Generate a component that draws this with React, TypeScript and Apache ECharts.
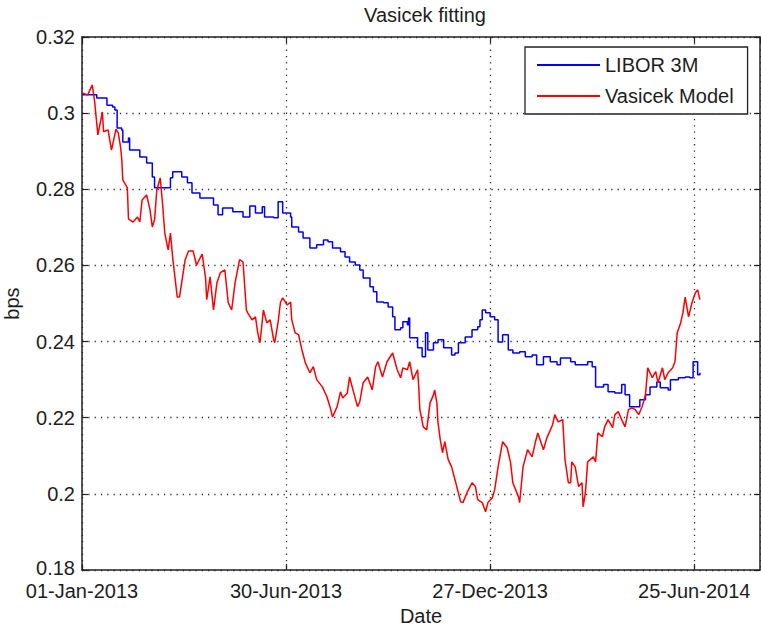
import React, { useEffect, useRef } from "react";
import * as echarts from "echarts";

const TITLE = "Vasicek fitting";
const X_NAME = "Date";
const Y_NAME = "bps";
const SERIES_NAMES = ["LIBOR 3M", "Vasicek Model"];
const X_TICK_DAYS = [0, 180, 360, 540];
const Y_MIN = 0.18;
const Y_MAX = 0.32;
const Y_STEP = 0.02;
const X_MAX_DAYS = 598;
const MONTHS = ["Jan", "Feb", "Mar", "Apr", "May", "Jun", "Jul", "Aug", "Sep", "Oct", "Nov", "Dec"];

// [days since 01-Jan-2013, value]
const liborData: [number, number][] = [
  [0, 0.3048], [13, 0.304], [22, 0.3021], [27, 0.3016], [29, 0.3008], [31, 0.2961], [35, 0.2956], [36, 0.2924],
  [41, 0.2935], [42, 0.2903], [51, 0.2885], [57, 0.2869], [62, 0.2832], [64, 0.2804], [75, 0.2804], [78, 0.283],
  [80, 0.2846], [88, 0.2832], [93, 0.2817], [97, 0.279], [104, 0.2777], [116, 0.2759], [120, 0.2733], [124, 0.2751],
  [131, 0.2751], [133, 0.2741], [139, 0.2741], [142, 0.2727], [148, 0.2756], [153, 0.2738], [159, 0.2754], [161, 0.2727],
  [169, 0.2725], [173, 0.2767], [177, 0.2738], [184, 0.2727], [185, 0.2701], [191, 0.2688], [195, 0.2672], [201, 0.2646],
  [207, 0.2654], [213, 0.2667], [217, 0.2662], [221, 0.2646], [228, 0.2636], [232, 0.2622], [236, 0.2609], [241, 0.2601],
  [245, 0.2588], [248, 0.2567], [254, 0.2544], [257, 0.2531], [260, 0.2504], [266, 0.2502], [270, 0.2491], [274, 0.2465],
  [276, 0.2431], [281, 0.2436], [283, 0.2452], [287, 0.2444], [288, 0.2462], [289, 0.241], [296, 0.2384], [300, 0.236],
  [303, 0.2423], [305, 0.2378], [310, 0.2397], [314, 0.2405], [319, 0.2384], [326, 0.2365], [329, 0.237], [332, 0.2397],
  [338, 0.2412], [344, 0.2431], [349, 0.2439], [351, 0.2457], [353, 0.2483], [356, 0.2476], [360, 0.2465], [364, 0.2457],
  [367, 0.2399], [371, 0.2418], [376, 0.2378], [380, 0.237], [386, 0.2373], [391, 0.236], [397, 0.2365], [401, 0.2339],
  [407, 0.236], [413, 0.2347], [419, 0.2339], [422, 0.2357], [431, 0.2347], [435, 0.2339], [446, 0.2347], [450, 0.2334],
  [453, 0.2281], [460, 0.2287], [464, 0.2268], [470, 0.2265], [476, 0.2287], [479, 0.226], [483, 0.2229], [490, 0.2229],
  [492, 0.2247], [497, 0.226], [501, 0.2281], [507, 0.2294], [510, 0.2279], [517, 0.2273], [519, 0.23], [526, 0.2305],
  [532, 0.2307], [536, 0.2305], [539, 0.2347], [542, 0.2347], [543, 0.2313], [545, 0.2318],
];

const vasicekData: [number, number][] = [
  [0, 0.3053], [5, 0.3048], [9, 0.3074], [11, 0.3035], [14, 0.2943], [18, 0.3003], [19, 0.2951], [23, 0.2956],
  [26, 0.2903], [30, 0.2958], [32, 0.2948], [34, 0.2911], [35, 0.2882], [36, 0.2825], [40, 0.2804], [41, 0.2722],
  [45, 0.2714], [49, 0.2727], [51, 0.2714], [53, 0.2772], [57, 0.2785], [60, 0.2746], [62, 0.2701], [64, 0.272],
  [66, 0.2798], [69, 0.283], [71, 0.2764], [73, 0.2685], [76, 0.2641], [78, 0.2685], [80, 0.262], [84, 0.2517],
  [86, 0.2517], [91, 0.2615], [94, 0.2638], [98, 0.2638], [101, 0.2601], [106, 0.263], [109, 0.2567], [110, 0.251],
  [113, 0.257], [116, 0.2483], [119, 0.2554], [122, 0.2581], [126, 0.2588], [129, 0.2502], [132, 0.2483], [135, 0.2554],
  [139, 0.2615], [142, 0.2609], [145, 0.2483], [146, 0.2476], [150, 0.2457], [153, 0.2465], [155, 0.2423], [157, 0.2397],
  [160, 0.2483], [163, 0.2449], [166, 0.2457], [169, 0.2405], [170, 0.2397], [173, 0.2452], [175, 0.2502], [177, 0.2515],
  [181, 0.2496], [184, 0.2504], [185, 0.2457], [188, 0.2423], [191, 0.2418], [194, 0.2378], [197, 0.2344], [201, 0.2318],
  [204, 0.2334], [207, 0.23], [212, 0.2281], [216, 0.2255], [219, 0.2226], [221, 0.2202], [225, 0.2229], [228, 0.2268],
  [230, 0.2252], [234, 0.2265], [236, 0.2307], [239, 0.2273], [243, 0.2229], [245, 0.2242], [248, 0.2292], [252, 0.2307],
  [256, 0.2273], [259, 0.2334], [261, 0.2347], [265, 0.2307], [269, 0.2347], [274, 0.237], [278, 0.2326], [281, 0.2305],
  [283, 0.2331], [287, 0.2326], [289, 0.2347], [292, 0.23], [296, 0.2326], [297, 0.2281], [298, 0.2221], [301, 0.2176],
  [304, 0.2168], [307, 0.2239], [310, 0.226], [311, 0.2273], [313, 0.2239], [314, 0.2187], [316, 0.2142], [318, 0.2108],
  [320, 0.2137], [323, 0.209], [326, 0.2071], [329, 0.2037], [334, 0.1979], [336, 0.1977], [340, 0.2006], [344, 0.2029],
  [347, 0.2019], [349, 0.1985], [353, 0.1977], [356, 0.1953], [358, 0.1977], [362, 0.199], [364, 0.2011], [367, 0.2071],
  [371, 0.2137], [375, 0.2121], [378, 0.2082], [380, 0.2029], [385, 0.1992], [386, 0.1977], [389, 0.2071], [393, 0.2116],
  [397, 0.2097], [400, 0.2137], [402, 0.216], [407, 0.2116], [410, 0.2147], [415, 0.2181], [417, 0.2208], [420, 0.2189],
  [424, 0.2195], [426, 0.209], [429, 0.2029], [431, 0.2029], [432, 0.2084], [435, 0.2071], [438, 0.2019], [441, 0.2029],
  [442, 0.1966], [444, 0.2003], [446, 0.2084], [451, 0.2097], [453, 0.2084], [455, 0.216], [459, 0.215], [461, 0.2176],
  [464, 0.2195], [468, 0.2174], [470, 0.2208], [473, 0.2216], [476, 0.2195], [479, 0.2176], [482, 0.2221], [485, 0.2226],
  [488, 0.2221], [491, 0.2208], [494, 0.2229], [497, 0.226], [499, 0.2331], [503, 0.2305], [506, 0.2321], [508, 0.2292],
  [512, 0.2331], [514, 0.23], [517, 0.2318], [521, 0.2331], [523, 0.2347], [525, 0.2423], [528, 0.2449], [530, 0.2476],
  [532, 0.2517], [535, 0.2465], [538, 0.2502], [541, 0.2528], [543, 0.2536], [545, 0.251],
];

const FONT = "'Liberation Sans', Arial, Helvetica, sans-serif";
const TEXT_COLOR = "#1e1e1e";

function fmtDate(days: number): string {
  const t = new Date(Date.UTC(2013, 0, 1) + days * 86400000);
  const dd = String(t.getUTCDate()).padStart(2, "0");
  return `${dd}-${MONTHS[t.getUTCMonth()]}-${t.getUTCFullYear()}`;
}

export default function App() {
  const ref = useRef<HTMLDivElement>(null);
  useEffect(() => {
    if (!ref.current) return;
    const chart = echarts.init(ref.current, undefined, { renderer: "svg" });
    const gridLine = { show: true, lineStyle: { color: "#333", width: 1.3, type: [1.3, 5] as any } };
    const axisLine = { show: true, onZero: false, lineStyle: { color: "#222", width: 1.5 } };
    const tick = { show: true, inside: true, length: 6, lineStyle: { color: "#222", width: 1.2 } };
    const xBase = {
      type: "value" as const,
      min: 0,
      max: X_MAX_DAYS,
      interval: 180,
    };
    const yBase = {
      type: "value" as const,
      min: Y_MIN,
      max: Y_MAX,
      interval: Y_STEP,
    };
    chart.setOption({
      animation: false,
      textStyle: { fontFamily: FONT, color: TEXT_COLOR },
      title: {
        text: TITLE,
        left: 420,
        top: 0,
        textAlign: "center",
        textStyle: { fontFamily: FONT, fontSize: 20, fontWeight: "normal", color: TEXT_COLOR },
      },
      legend: {
        orient: "vertical",
        left: 525,
        top: 47,
        padding: [8, 14, 8, 12],
        itemWidth: 63,
        itemHeight: 2,
        itemGap: 11,
        icon: "rect",
        backgroundColor: "#fff",
        borderColor: "#222",
        borderWidth: 1.3,
        borderRadius: 0,
        data: SERIES_NAMES,
        textStyle: { fontFamily: FONT, fontSize: 20, color: TEXT_COLOR },
      },
      grid: { left: 82, right: 1, top: 37, bottom: 56, outerBoundsMode: "none", containLabel: false },
      xAxis: [
        {
          ...xBase,
          position: "bottom",
          name: X_NAME,
          nameLocation: "middle",
          nameGap: 34,
          nameTextStyle: { fontFamily: FONT, fontSize: 20, color: TEXT_COLOR },
          axisLine,
          axisTick: tick,
          splitLine: gridLine,
          axisLabel: {
            fontFamily: FONT,
            fontSize: 20,
            lineHeight: 18,
            color: TEXT_COLOR,
            margin: 12,
            showMaxLabel: false,
            formatter: (v: number) => (X_TICK_DAYS.includes(v) ? fmtDate(v) : ""),
          },
        },
        {
          ...xBase,
          position: "top",
          axisLine,
          axisTick: tick,
          splitLine: { show: false },
          axisLabel: { show: false },
        },
      ],
      yAxis: [
        {
          ...yBase,
          position: "left",
          name: Y_NAME,
          nameLocation: "middle",
          nameGap: 60,
          nameTextStyle: { fontFamily: FONT, fontSize: 20, color: TEXT_COLOR },
          axisLine,
          axisTick: tick,
          splitLine: gridLine,
          axisLabel: {
            fontFamily: FONT,
            fontSize: 20,
            lineHeight: 18,
            color: TEXT_COLOR,
            margin: 7,
            formatter: (v: number) => {
              const s = String(Number(v.toFixed(4)));
              return Math.abs(v - Y_MIN) < 1e-9 ? `{low|${s}}` : s;
            },
            rich: {
              low: { fontFamily: FONT, fontSize: 20, lineHeight: 18, color: TEXT_COLOR, padding: [0, 0, 5, 0] },
            },
          },
        },
        {
          ...yBase,
          position: "right",
          axisLine,
          axisTick: tick,
          splitLine: { show: false },
          axisLabel: { show: false },
        },
      ],
      series: [
        {
          name: SERIES_NAMES[0],
          type: "line",
          data: liborData,
          xAxisIndex: 0,
          yAxisIndex: 0,
          showSymbol: false,
          symbol: "none",
          step: "end",
          lineStyle: { color: "#0000ff", width: 1.5 },
          itemStyle: { color: "#0000ff" },
        },
        {
          name: SERIES_NAMES[1],
          type: "line",
          data: vasicekData,
          xAxisIndex: 0,
          yAxisIndex: 0,
          showSymbol: false,
          symbol: "none",
          lineStyle: { color: "#ff0000", width: 1.5 },
          itemStyle: { color: "#ff0000" },
        },
      ],
    });
    return () => chart.dispose();
  }, []);
  return (
    <div
      ref={ref}
      style={{ position: "absolute", left: 0, top: 0, width: 761, height: 626, background: "#fff" }}
    />
  );
}
